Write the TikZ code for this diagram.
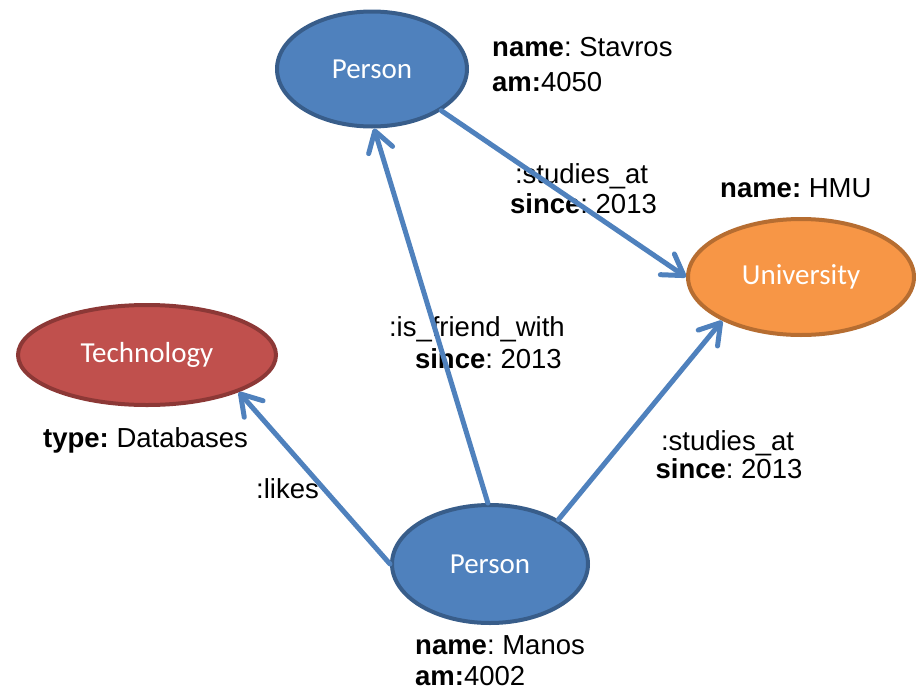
\documentclass[tikz,border=0pt]{standalone}
\usepackage{fontspec}
\usetikzlibrary{shapes.geometric,arrows.meta}
\newfontfamily\labfont{Liberation Sans}
\newfontfamily\entfont{Carlito}
\frenchspacing
\definecolor{blueFill}{HTML}{4F81BD}
\definecolor{blueLine}{HTML}{385D8A}
\definecolor{orangeFill}{HTML}{F79646}
\definecolor{orangeLine}{HTML}{B66D31}
\definecolor{redFill}{HTML}{C0504D}
\definecolor{redLine}{HTML}{8C3836}
\tikzset{
  entity/.style={ellipse, line width=4pt, inner sep=0pt,
    text=white, font=\entfont\fontsize{29}{34}\selectfont},
  person/.style={entity, fill=blueFill, draw=blueLine},
  univ/.style={entity, fill=orangeFill, draw=orangeLine},
  tech/.style={entity, fill=redFill, draw=redLine},
  lbl/.style={inner sep=0pt, font=\labfont\frenchspacing\fontsize{27.5}{33}\selectfont},
  rel/.style={draw=blueFill, line width=5pt, line cap=round,
    -{Straight Barb[length=20pt,width=25pt,round]}}
}
\begin{document}
\begin{tikzpicture}[x=1pt,y=-1pt]
\useasboundingbox (0,0) rectangle (916,691);

% entities
\node[person, minimum width=190pt, minimum height=115pt] (pt) at (372,69) {Person};
\node[univ, minimum width=226pt, minimum height=116pt] (uni) at (801,277) {University};
\node[tech, minimum width=258pt, minimum height=100pt] (te) at (147,355) {Technology};
\node[person, minimum width=196pt, minimum height=118pt] (pb) at (490,564) {Person};

% properties of the entities
\node[lbl, anchor=base west] (ptname) at (492,56) {\textbf{name}: Stavros};
\node[lbl, anchor=base west] (ptam) at (492,91) {\textbf{am:}4050};
\node[lbl, anchor=base west] (uniname) at (720,197) {\textbf{name:} HMU};
\node[lbl, anchor=base west] (tetype) at (43,447) {\textbf{type:} Databases};
\node[lbl, anchor=base west] (pbname) at (415,654) {\textbf{name}: Manos};
\node[lbl, anchor=base west] (pbam) at (415,685) {\textbf{am:}4002};

% relationship labels
\node[lbl, anchor=base] (r1a) at (581.5,183) {:studies\_at};
\node[lbl, anchor=base] (r1b) at (583.5,213) {\textbf{since}: 2013};
\node[lbl, anchor=base east] (r2a) at (565,336) {:is\_friend\_with};
\node[lbl, anchor=base east] (r2b) at (562,368) {\textbf{since}: 2013};
\node[lbl, anchor=base] (r3a) at (727.5,450) {:studies\_at};
\node[lbl, anchor=base] (r3b) at (729,478) {\textbf{since}: 2013};
\node[lbl, anchor=base west] (r4) at (256,498) {:likes};

% relationships
\draw[rel] (pt.-31) -- (uni.west);
\draw[rel] (pb.92) -- (pt.-88);
\draw[rel] (pb.33) -- (uni.209);
\draw[rel] (pb.west) -- (te.-22);
\end{tikzpicture}
\end{document}
